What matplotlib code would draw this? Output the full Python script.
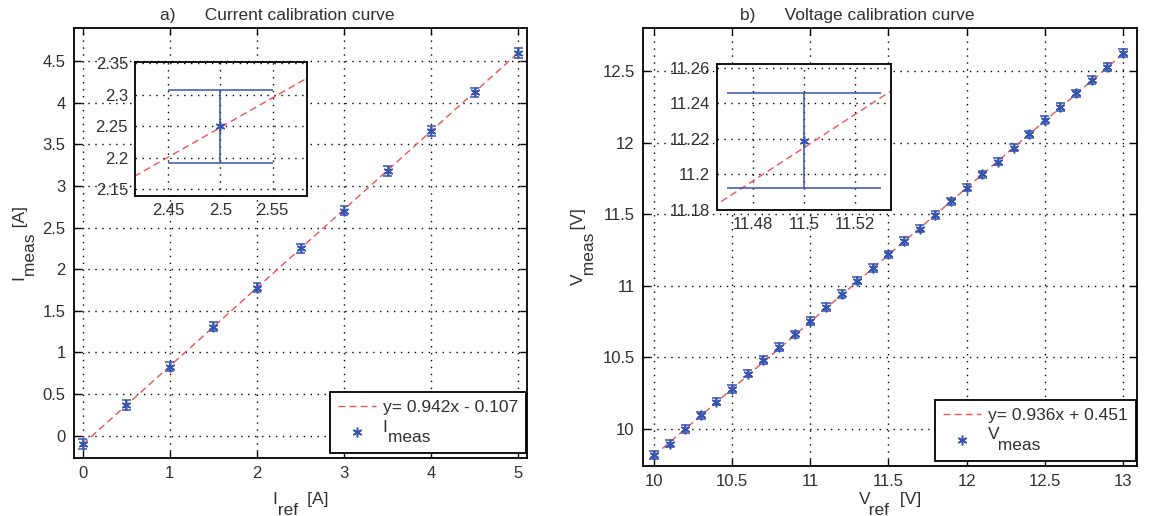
"""
Calibration curves (current and voltage) with zoomed insets.
"""
import matplotlib
matplotlib.use('Agg')
import matplotlib.pyplot as plt
import numpy as np

# Current calibration data
i_ref = [0, 0.5, 1, 1.5, 2, 2.5, 3, 3.5, 4, 4.5, 5]
i_meas = [-0.10, 0.365, 0.83, 1.31, 1.78, 2.25, 2.705, 3.18, 3.66, 4.125, 4.60]
i_err = 0.058
i_fit = (0.942, -0.107)
i_fit_label = 'y= 0.942x - 0.107'

# Voltage calibration data
v_ref = [10.0, 10.1, 10.2, 10.3, 10.4, 10.5, 10.6, 10.7, 10.8, 10.9, 11.0,
         11.1, 11.2, 11.3, 11.4, 11.5, 11.6, 11.7, 11.8, 11.9, 12.0,
         12.1, 12.2, 12.3, 12.4, 12.5, 12.6, 12.7, 12.8, 12.9, 13.0]
v_meas = [9.816, 9.897, 9.998, 10.094, 10.19, 10.28, 10.385, 10.48, 10.57, 10.66, 10.755,
          10.85, 10.94, 11.035, 11.125, 11.219, 11.314, 11.398, 11.493, 11.588, 11.685,
          11.778, 11.866, 11.965, 12.057, 12.157, 12.249, 12.343, 12.435, 12.528, 12.625]
v_err = 0.0265
v_fit = (0.936, 0.451)
v_fit_label = 'y= 0.936x + 0.451'

# Ticks
i_xticks = [0, 1, 2, 3, 4, 5]
i_yticks = [0, 0.5, 1, 1.5, 2, 2.5, 3, 3.5, 4, 4.5]
i_in_xticks = [2.45, 2.5, 2.55]
i_in_yticks = [2.15, 2.2, 2.25, 2.3, 2.35]
v_xticks = [10, 10.5, 11, 11.5, 12, 12.5, 13]
v_yticks = [10, 10.5, 11, 11.5, 12, 12.5]
v_in_xticks = [11.48, 11.5, 11.52]
v_in_yticks = [11.18, 11.2, 11.22, 11.24, 11.26]

BLUE = '#3553b0'
RED = '#f05252'
TXT = '#303030'
SUB_SPACING = 0.62  # MATLAB-like low subscripts, drawn as a second text line

plt.rcParams['font.family'] = ['Liberation Sans', 'DejaVu Sans']


def configure_axes(ax, xticks, yticks, xlim, ylim, fs=12):
    ax.set_xlim(*xlim)
    ax.set_ylim(*ylim)
    ax.set_xticks(xticks)
    ax.set_yticks(yticks)
    ax.set_xticklabels([f'{v:g}' for v in xticks])
    ax.set_yticklabels([f'{v:g}' for v in yticks])
    ax.tick_params(direction='in', top=True, right=True, length=5, width=1,
                   labelsize=fs, labelcolor=TXT, pad=6)
    ax.grid(True, linestyle=(0, (1, 4)), color='black', linewidth=1)
    for s in ax.spines.values():
        s.set_linewidth(1.3)
        s.set_color('black')


def draw_data(ax, x, y, err, fit, fit_label, meas_label, legend=False):
    x = np.asarray(x)
    y = np.asarray(y)
    capw = (x.max() - x.min()) / 100
    xf = np.array([x.min(), x.max()])
    ax.plot(xf, fit[0] * xf + fit[1], color=RED, linestyle=(0, (5, 3)), lw=1,
            label=fit_label, zorder=2)
    ax.vlines(x, y - err, y + err, color=BLUE, lw=1.1, zorder=3)
    ax.hlines(y - err, x - capw, x + capw, color=BLUE, lw=1.1, zorder=3)
    ax.hlines(y + err, x - capw, x + capw, color=BLUE, lw=1.1, zorder=3)
    ax.plot(x, y, linestyle='none', marker=(6, 2, 0), markersize=7, mew=1.1,
            color=BLUE, label=meas_label, zorder=4)
    if legend:
        leg = ax.legend(loc='lower right', bbox_to_anchor=(0.997, 0.012), borderaxespad=0,
                        fontsize=12.5, frameon=True, fancybox=False, framealpha=1,
                        edgecolor='black', handlelength=2.2, labelspacing=0.25,
                        borderpad=0.45, handletextpad=0.4)
        leg.get_frame().set_linewidth(1.3)
        for t in leg.get_texts():
            t.set_color(TXT)
            t.set_linespacing(SUB_SPACING)


fig = plt.figure(figsize=(11.49, 5.16), dpi=100)

# a) Current
ax1 = fig.add_axes([0.0644, 0.1124, 0.3943, 0.8333])
configure_axes(ax1, i_xticks, i_yticks, (-0.1, 5.1), (-0.27, 4.9))
draw_data(ax1, i_ref, i_meas, i_err, i_fit, i_fit_label, 'I\n meas', legend=True)
ax1.set_xlabel('I      [A]\n ref', fontsize=12.5, color=TXT, labelpad=8,
               multialignment='left', linespacing=SUB_SPACING)
ax1.set_ylabel('I          [A]\n meas', fontsize=12.5, color=TXT, labelpad=3,
               multialignment='left', linespacing=SUB_SPACING)
ax1.text(0.19, 1.012, 'a)      Current calibration curve', transform=ax1.transAxes,
         ha='left', va='bottom', fontsize=12.5, color=TXT)

ax1i = fig.add_axes([0.1175, 0.6202, 0.1497, 0.2597])
configure_axes(ax1i, i_in_xticks, i_in_yticks, (2.418, 2.583), (2.139, 2.352))
ax1i.tick_params(top=False, right=False, length=0, pad=5)
draw_data(ax1i, i_ref, i_meas, i_err, i_fit, i_fit_label, 'I')

# b) Voltage
ax2 = fig.add_axes([0.5596, 0.0969, 0.4300, 0.8488])
configure_axes(ax2, v_xticks, v_yticks, (9.93, 13.09), (9.74, 12.8))
draw_data(ax2, v_ref, v_meas, v_err, v_fit, v_fit_label, 'V\n  meas', legend=True)
ax2.set_xlabel('V      [V]\n  ref', fontsize=12.5, color=TXT, labelpad=2,
               multialignment='left', linespacing=SUB_SPACING)
ax2.set_ylabel('V         [V]\n  meas', fontsize=12.5, color=TXT, labelpad=4,
               multialignment='left', linespacing=SUB_SPACING)
ax2.text(0.196, 1.012, 'b)      Voltage calibration curve', transform=ax2.transAxes,
         ha='left', va='bottom', fontsize=12.5, color=TXT)

ax2i = fig.add_axes([0.6240, 0.5930, 0.1514, 0.2830])
configure_axes(ax2i, v_in_xticks, v_in_yticks, (11.466, 11.534), (11.18, 11.262))
ax2i.tick_params(top=False, right=False, length=0, pad=5)
draw_data(ax2i, v_ref, v_meas, v_err, v_fit, v_fit_label, 'V')

fig.savefig('out.png', dpi=100)
